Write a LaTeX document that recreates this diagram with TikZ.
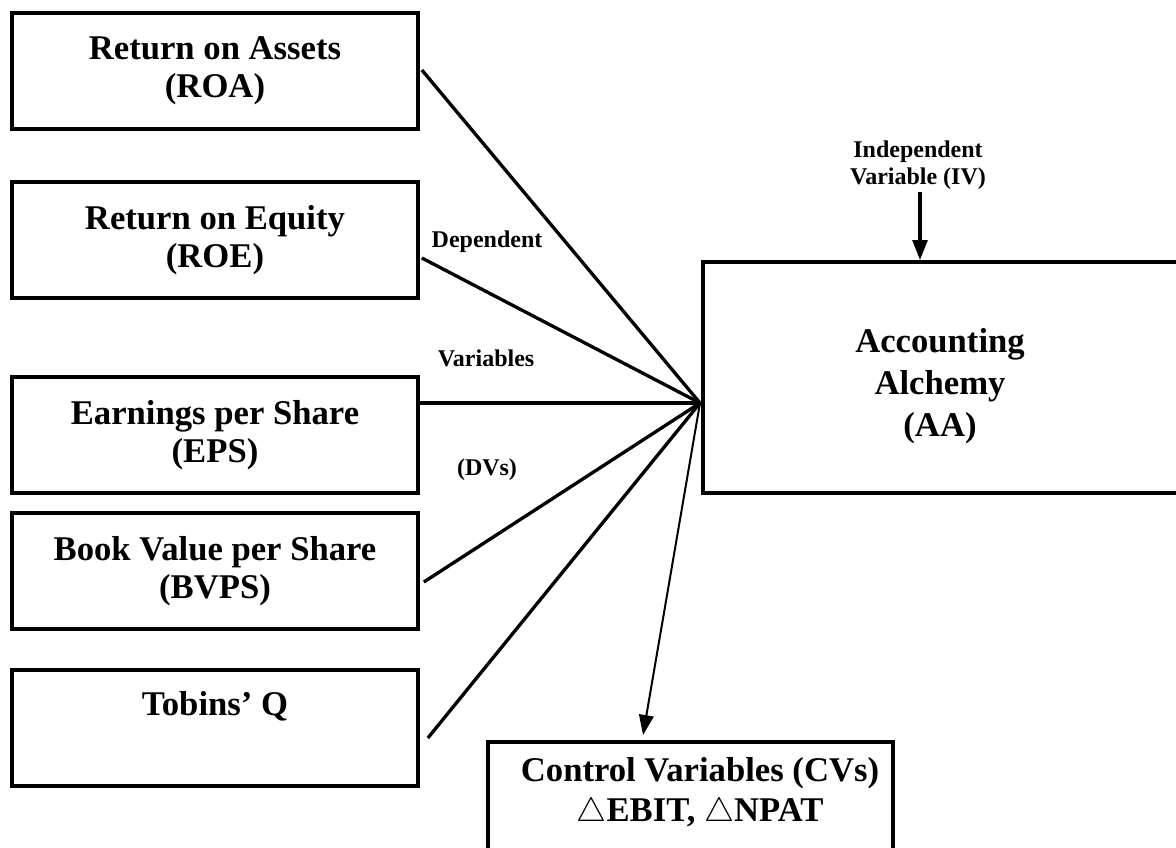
\documentclass[tikz,border=0pt]{standalone}
\usepackage{fontspec}
\usepackage{graphicx}
\setmainfont{Liberation Serif}
\usetikzlibrary{arrows.meta,calc}
\newcommand{\deltri}{\resizebox{22.5pt}{!}{$\triangle$}}
\begin{document}
\begin{tikzpicture}[x=0.75pt,y=-0.75pt,
  box/.style={draw, line width=2.8pt, minimum width=304.5pt, minimum height=87pt,
    align=center, inner sep=0pt, font=\bfseries\fontsize{26}{28.5}\selectfont},
  frame/.style={draw, line width=2.8pt, inner sep=0pt},
  txt/.style={align=center, inner sep=0pt, font=\bfseries\fontsize{26}{30}\selectfont},
  lbl/.style={align=center, inner sep=0pt, font=\bfseries\fontsize{18}{20.5}\selectfont},
  fan/.style={line width=2.5pt},
  arr/.style={-{Triangle[width=11pt,length=15pt]}}]
\useasboundingbox (0,0) rectangle (1176,847);

% dependent variable boxes
\node[box] (roa)  at (215,71)  {Return on Assets\\(ROA)};
\node[box] (roe)  at (215,240) {Return on Equity\\(ROE)};
\node[box] (eps)  at (215,435) {Earnings per Share\\(EPS)};
\node[box] (bvps) at (215,571) {Book Value per Share\\(BVPS)};
\node[box] (tq)   at (215,728) {Tobins’ Q\\\strut};

% independent variable box (runs past the right edge)
\node[frame, minimum width=367.5pt, minimum height=173.25pt] (aa) at (948,377.5) {};
\node[txt, font=\bfseries\fontsize{26}{31.5}\selectfont] (aatxt) at (940,386)
      {Accounting\\Alchemy\\(AA)};

% control variable box (runs past the lower edge)
\node[frame, minimum width=303.75pt, minimum height=150pt, anchor=north] (cvbox) at (690.5,740) {};
\node[txt] (cv) at (700,793)
      {Control Variables (CVs)\\\deltri EBIT, \deltri NPAT};

% labels
\node[lbl] (dep) at (487,242) {Dependent};
\node[lbl] (var) at (486,358) {Variables};
\node[lbl] (dvs) at (487,470) {(DVs)};
\node[lbl] (iv) at (918,165) {Independent\\Variable (IV)};

% connectors
\coordinate (hub) at (700,403);
\coordinate (ivs) at (920,192);
\coordinate (cvin) at (643,735);

\draw[fan] ($(roa.east)+(2,-1)$) -- (hub);
\draw[fan] ($(roe.east)+(2,18)$) -- (hub);
\draw[fan] ($(eps.east)+(0,-32)$) -- (hub);
\draw[fan] ($(bvps.east)+(4,11)$) -- (hub);
\draw[fan] ($(tq.east)+(8,10)$) -- (hub);

\draw[arr, line width=2.5pt] (ivs) -- (ivs |- aa.north);
\draw[arr, line width=1.5pt] (hub) -- (cvin);
\end{tikzpicture}
\end{document}
